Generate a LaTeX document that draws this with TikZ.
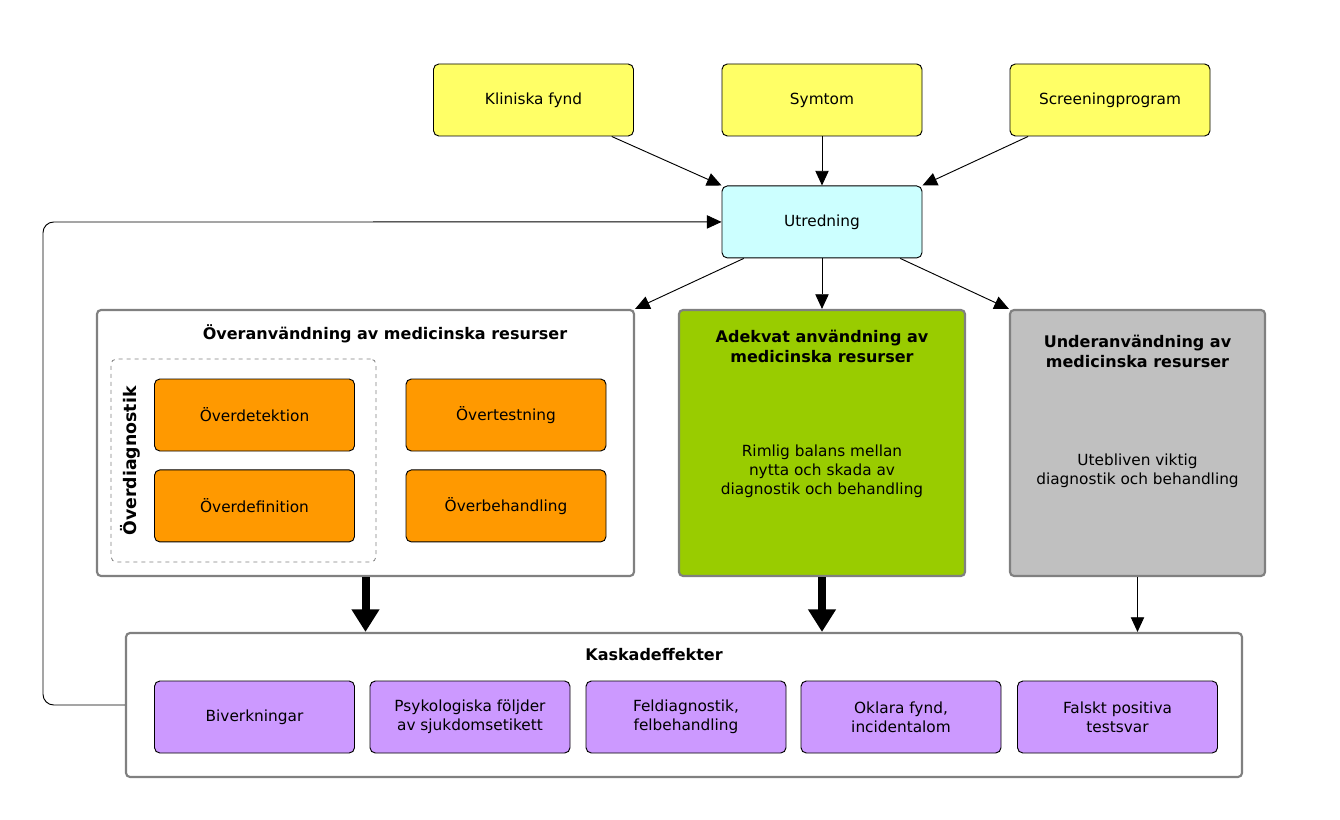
\documentclass[tikz,border=0pt]{standalone}
\usepackage{fontspec}
\setmainfont{DejaVu Sans}
\usepackage{xcolor}
\usetikzlibrary{arrows.meta,positioning,fit}

\definecolor{fyndgul}{HTML}{FFFF66}
\definecolor{utrcyan}{HTML}{CCFFFF}
\definecolor{overorange}{HTML}{FF9900}
\definecolor{adekgron}{HTML}{99CC00}
\definecolor{undergra}{HTML}{C0C0C0}
\definecolor{kasklila}{HTML}{CC99FF}
\definecolor{kantgra}{HTML}{808080}

\tikzset{
	smallbox/.style={draw, rounded corners=4pt, line width=0.7pt, align=center,
		minimum width=150pt, minimum height=54pt, inner sep=0pt,
		font=\fontsize{11.5}{14.2}\selectfont},
	bigbox/.style={draw=kantgra, rounded corners=3pt, line width=1.6pt, inner sep=0pt},
	dashbox/.style={draw=kantgra, dashed, rounded corners=4pt, line width=0.6pt, inner sep=0pt},
	rubrik/.style={font=\fontsize{12}{15}\selectfont\bfseries, align=center},
	brodtext/.style={font=\fontsize{11.5}{14.2}\selectfont, align=center},
	pil/.style={-{Triangle[length=11pt,width=10pt]}, line width=0.7pt},
	tjockpil/.style={-{Triangle[length=17pt,width=20pt]}, line width=6pt}
}

\begin{document}
\begin{tikzpicture}[x=0.75pt, y=-0.75pt]
	\useasboundingbox (0,0) rectangle (1340,820);

	% orsaker till utredning
	\node[smallbox, fill=fyndgul] (fynd) at (533.5,100) {Kliniska fynd};
	\node[smallbox, fill=fyndgul] (symtom) at (822,100) {Symtom};
	\node[smallbox, fill=fyndgul] (screening) at (1110,100) {Screeningprogram};
	\node[smallbox, fill=utrcyan, below=36.75pt of symtom] (utr) {Utredning};

	% overanvandning
	\node[bigbox, fit={(97,310) (634,576)}] (over) {};
	\node[rubrik] (overtitel) at (385,334) {Överanvändning av medicinska resurser};
	\node[dashbox, fit={(111,359) (376,562)}] (diag) {};
	\node[rubrik, font=\fontsize{13}{15}\selectfont\bfseries, rotate=90] (diagtitel) at (130,461) {Överdiagnostik};
	\node[smallbox, fill=overorange] (detektion) at (254.5,415) {Överdetektion};
	\node[smallbox, fill=overorange, below=13.5pt of detektion] (definition) {Överdefinition};
	\node[smallbox, fill=overorange] (testning) at (506,415) {Övertestning};
	\node[smallbox, fill=overorange, below=13.5pt of testning] (behandling) {Överbehandling};

	% adekvat anvandning
	\node[bigbox, fill=adekgron, fit={(679,310) (965,576)}] (adek) {};
	\node[rubrik] (adektitel) at (822,346) {Adekvat användning av\\medicinska resurser};
	\node[brodtext] (adektext) at (822,471) {Rimlig balans mellan\\nytta och skada av\\diagnostik och behandling};

	% underanvandning
	\node[bigbox, fill=undergra, fit={(1010,310) (1265,576)}] (under) {};
	\node[rubrik] (undertitel) at (1137.5,351) {Underanvändning av\\medicinska resurser};
	\node[brodtext] (undertext) at (1137.5,471) {Utebliven viktig\\diagnostik och behandling};

	% kaskadeffekter
	\node[bigbox, fit={(126,633) (1242,777)}] (kask) {};
	\node[rubrik] (kasktitel) at (654,655) {Kaskadeffekter};
	\node[smallbox, fill=kasklila] (biverk) at (254.5,717) {Biverkningar};
	\node[smallbox, fill=kasklila] (psyk) at (470,717) {Psykologiska följder\\av sjukdomsetikett};
	\node[smallbox, fill=kasklila] (feldiag) at (686,717) {Feldiagnostik,\\felbehandling};
	\node[smallbox, fill=kasklila] (oklara) at (901,717) {Oklara fynd,\\incidentalom};
	\node[smallbox, fill=kasklila] (falskt) at (1117.5,717) {Falskt positiva\\testsvar};

	\coordinate (varv) at (43,222);

	% pilar
	\draw[pil] (fynd.-25) -- (utr.north west);
	\draw[pil] (symtom) -- (utr);
	\draw[pil] (screening.-156) -- (utr.north east);
	\draw[pil] (utr.-155) -- (over.north east);
	\draw[pil] (utr.south) -- (utr.south |- adek.north);
	\draw[pil] (utr.-25) -- (under.north west);
	\draw[tjockpil] (over.south) -- (over.south |- kask.north);
	\draw[tjockpil] (adek.south) -- (adek.south |- kask.north);
	\draw[pil] (under.south) -- (under.south |- kask.north);
	\draw[pil, rounded corners=8pt] (kask.west) -| (varv) -- (utr.west);
\end{tikzpicture}
\end{document}
